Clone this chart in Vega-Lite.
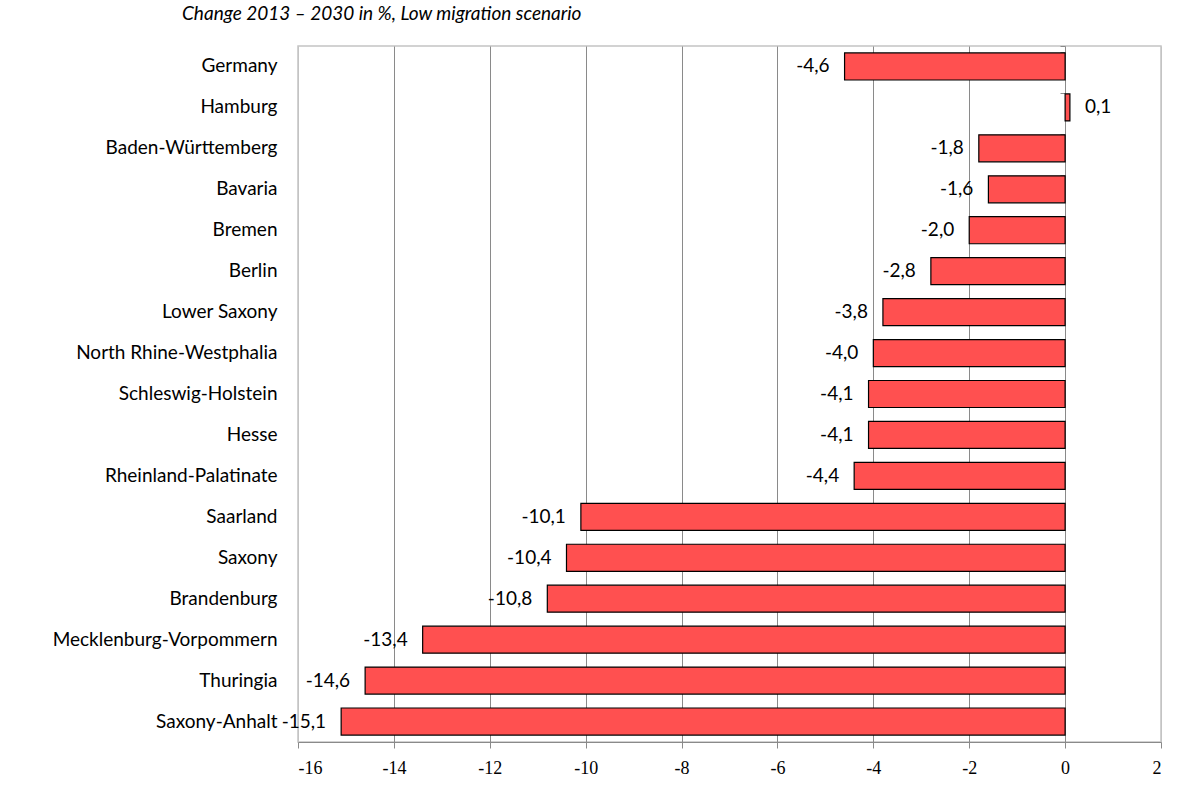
{
  "$schema": "https://vega.github.io/schema/vega-lite/v6.json",
  "width": 863,
  "height": 696,
  "autosize": {"type": "none"},
  "padding": {"left": 298, "top": 46, "right": 42, "bottom": 61},
  "background": "white",
  "title": {
    "text": "Change 2013 – 2030 in %, Low migration scenario",
    "anchor": "start",
    "frame": "group",
    "baseline": "alphabetic",
    "offset": 28,
    "dy": 30,
    "dx": -116,
    "font": "Lato",
    "fontStyle": "italic",
    "fontWeight": "normal",
    "fontSize": 19,
    "color": "#000000"
  },
  "data": {
    "values": [
      {"state": "Germany", "change": -4.6},
      {"state": "Hamburg", "change": 0.1},
      {"state": "Baden-Württemberg", "change": -1.8},
      {"state": "Bavaria", "change": -1.6},
      {"state": "Bremen", "change": -2.0},
      {"state": "Berlin", "change": -2.8},
      {"state": "Lower Saxony", "change": -3.8},
      {"state": "North Rhine-Westphalia", "change": -4.0},
      {"state": "Schleswig-Holstein", "change": -4.1},
      {"state": "Hesse", "change": -4.1},
      {"state": "Rheinland-Palatinate", "change": -4.4},
      {"state": "Saarland", "change": -10.1},
      {"state": "Saxony", "change": -10.4},
      {"state": "Brandenburg", "change": -10.8},
      {"state": "Mecklenburg-Vorpommern", "change": -13.4},
      {"state": "Thuringia", "change": -14.6},
      {"state": "Saxony-Anhalt", "change": -15.1}
    ]
  },
  "encoding": {
    "y": {
      "field": "state",
      "type": "nominal",
      "sort": null,
      "scale": {"paddingInner": 0.34, "paddingOuter": 0.17},
      "axis": {
        "title": null,
        "orient": "left",
        "offset": -767,
        "domain": false,
        "ticks": true,
        "tickSize": 5,
        "tickColor": "#8a8a8a",
        "bandPosition": 0,
        "tickExtra": true,
        "labelPadding": 783,
        "labelFont": "Lato",
        "labelFontSize": 19,
        "labelColor": "#000000",
        "labelLimit": 400,
        "grid": false
      }
    },
    "x": {
      "field": "change",
      "type": "quantitative",
      "scale": {"domain": [-16, 2], "nice": false, "zero": false},
      "axis": {
        "title": null,
        "values": [-16, -14, -12, -10, -8, -6, -4, -2, 0, 2],
        "format": "d",
        "domainColor": "#8a8a8a",
        "domainWidth": 1,
        "tickColor": "#8a8a8a",
        "tickSize": 6,
        "labelPadding": 11,
        "labelFont": "Liberation Sans Narrow",
        "labelFontSize": 18,
        "labelColor": "#000000",
        "grid": true,
        "gridColor": {
          "condition": {"test": "datum.value === -16 || datum.value === 2", "value": "#c4c4c4"},
          "value": "#8a8a8a"
        },
        "gridWidth": 1
      }
    }
  },
  "layer": [
    {
      "mark": {"type": "bar", "fill": "#ff5050", "stroke": "#000000", "strokeWidth": 1.2}
    },
    {
      "transform": [{"filter": "datum.change < 0"}],
      "mark": {"type": "text", "align": "right", "baseline": "middle", "dx": -15, "font": "Lato", "fontSize": 19, "color": "#000000"},
      "encoding": {"text": {"field": "change", "type": "quantitative", "format": ".1f"}}
    },
    {
      "transform": [{"filter": "datum.change >= 0"}],
      "mark": {"type": "text", "align": "left", "baseline": "middle", "dx": 15, "font": "Lato", "fontSize": 19, "color": "#000000"},
      "encoding": {"text": {"field": "change", "type": "quantitative", "format": ".1f"}}
    }
  ],
  "config": {
    "locale": {
      "number": {
        "decimal": ",",
        "thousands": ".",
        "grouping": [3],
        "currency": ["", " €"],
        "minus": "-"
      }
    },
    "view": {"stroke": "#c4c4c4", "strokeWidth": 1.5}
  }
}
